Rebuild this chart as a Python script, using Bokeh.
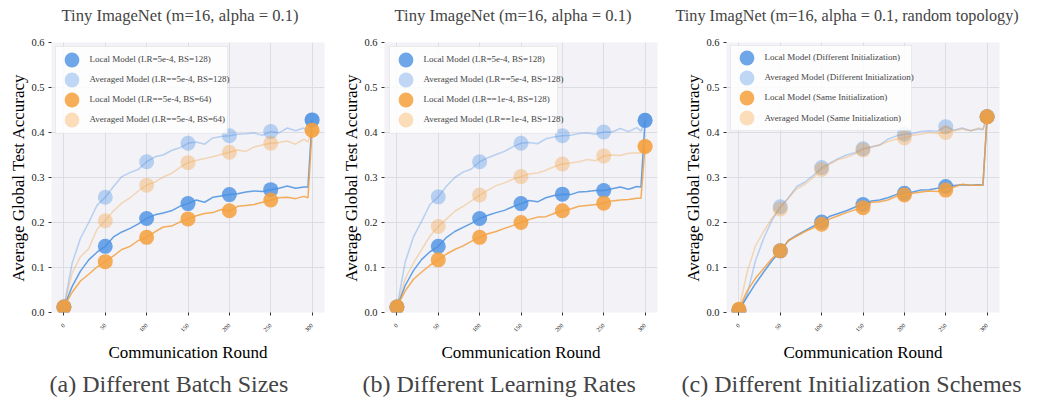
import math
from bokeh.plotting import figure
from bokeh.layouts import row
from bokeh.models import (FixedTicker, Legend, LegendItem, Title, ColumnDataSource, Range1d,
                          PrintfTickFormatter, BoxAnnotation)
from bokeh.embed import file_html
from bokeh.resources import INLINE

# ---------------- data ----------------
rounds = [0, 10, 20, 30, 40, 50, 60, 70, 80, 90, 100, 110, 120, 130, 140, 150, 160, 170, 180, 190,
          200, 210, 220, 230, 240, 250, 260, 270, 280, 290, 295, 300]
marker_rounds = [0, 50, 100, 150, 200, 250, 300]
x_ticks = [0, 50, 100, 150, 200, 250, 300]
y_ticks = [0.0, 0.1, 0.2, 0.3, 0.4, 0.5, 0.6]

titles = ["Tiny ImageNet (m=16, alpha = 0.1)",
          "Tiny ImageNet (m=16, alpha = 0.1)",
          "Tiny ImagNet (m=16, alpha = 0.1, random topology)"]
captions = ["(a) Different Batch Sizes",
            "(b) Different Learning Rates",
            "(c) Different Initialization Schemes"]

labels_a = ["Local Model (LR=5e-4, BS=128)", "Averaged Model (LR==5e-4, BS=128)",
            "Local Model (LR==5e-4, BS=64)", "Averaged Model (LR==5e-4, BS=64)"]
labels_b = ["Local Model (LR=5e-4, BS=128)", "Averaged Model (LR==5e-4, BS=128)",
            "Local Model (LR==1e-4, BS=128)", "Averaged Model (LR==1e-4, BS=128)"]
labels_c = ["Local Model (Different Initialization)", "Averaged Model (Different Initialization)",
            "Local Model (Same Initialization)", "Averaged Model (Same Initialization)"]

a_local_128 = [0.012, 0.058, 0.092, 0.117, 0.134, 0.147, 0.168, 0.179, 0.187, 0.197, 0.209, 0.217, 0.221, 0.226, 0.236, 0.242,
               0.250, 0.245, 0.256, 0.259, 0.262, 0.264, 0.268, 0.270, 0.269, 0.273, 0.276, 0.281, 0.276, 0.279, 0.279, 0.428]
a_avg_128 = [0.012, 0.110, 0.165, 0.200, 0.238, 0.256, 0.280, 0.302, 0.311, 0.318, 0.335, 0.346, 0.350, 0.360, 0.366, 0.376,
             0.379, 0.374, 0.388, 0.391, 0.393, 0.396, 0.397, 0.399, 0.394, 0.402, 0.399, 0.410, 0.404, 0.410, 0.401, 0.428]
a_local_64 = [0.012, 0.045, 0.070, 0.085, 0.101, 0.113, 0.126, 0.140, 0.147, 0.160, 0.167, 0.179, 0.190, 0.192, 0.201, 0.208,
              0.215, 0.220, 0.222, 0.229, 0.226, 0.236, 0.238, 0.240, 0.245, 0.250, 0.255, 0.256, 0.253, 0.258, 0.255, 0.405]
a_avg_64 = [0.012, 0.088, 0.124, 0.142, 0.185, 0.204, 0.226, 0.243, 0.255, 0.270, 0.283, 0.290, 0.301, 0.309, 0.322, 0.333,
            0.338, 0.342, 0.346, 0.351, 0.356, 0.361, 0.358, 0.368, 0.372, 0.376, 0.378, 0.381, 0.374, 0.385, 0.379, 0.405]

b_local_5e4 = [0.012, 0.060, 0.093, 0.118, 0.135, 0.147, 0.167, 0.180, 0.189, 0.198, 0.209, 0.216, 0.222, 0.227, 0.235, 0.242,
               0.249, 0.246, 0.255, 0.260, 0.263, 0.262, 0.268, 0.269, 0.271, 0.271, 0.275, 0.279, 0.274, 0.280, 0.279, 0.427]
b_avg_5e4 = [0.012, 0.112, 0.168, 0.203, 0.240, 0.257, 0.281, 0.300, 0.312, 0.319, 0.335, 0.344, 0.351, 0.358, 0.368, 0.376,
             0.378, 0.375, 0.386, 0.390, 0.393, 0.394, 0.398, 0.399, 0.396, 0.401, 0.401, 0.409, 0.402, 0.411, 0.403, 0.427]
b_local_1e4 = [0.012, 0.048, 0.074, 0.090, 0.105, 0.117, 0.130, 0.140, 0.148, 0.158, 0.167, 0.175, 0.180, 0.187, 0.193, 0.200,
               0.207, 0.212, 0.213, 0.220, 0.226, 0.230, 0.236, 0.238, 0.240, 0.243, 0.248, 0.250, 0.251, 0.254, 0.254, 0.369]
b_avg_1e4 = [0.012, 0.075, 0.110, 0.140, 0.170, 0.191, 0.208, 0.225, 0.236, 0.248, 0.261, 0.272, 0.282, 0.288, 0.296, 0.302,
             0.308, 0.310, 0.316, 0.324, 0.330, 0.332, 0.335, 0.340, 0.337, 0.348, 0.350, 0.349, 0.354, 0.355, 0.354, 0.369]

c_local_diff = [0.005, 0.035, 0.064, 0.090, 0.115, 0.137, 0.160, 0.172, 0.182, 0.192, 0.201, 0.214, 0.220, 0.226, 0.234, 0.240,
                0.248, 0.250, 0.255, 0.262, 0.265, 0.268, 0.272, 0.273, 0.276, 0.280, 0.282, 0.284, 0.283, 0.284, 0.283, 0.435]
c_avg_diff = [0.005, 0.040, 0.115, 0.165, 0.205, 0.235, 0.255, 0.280, 0.290, 0.305, 0.322, 0.332, 0.342, 0.350, 0.355, 0.364,
              0.368, 0.372, 0.385, 0.392, 0.396, 0.398, 0.402, 0.404, 0.403, 0.413, 0.405, 0.410, 0.404, 0.408, 0.406, 0.435]
c_local_same = [0.007, 0.048, 0.076, 0.098, 0.120, 0.137, 0.160, 0.170, 0.180, 0.188, 0.196, 0.208, 0.215, 0.222, 0.228, 0.233,
                0.245, 0.246, 0.250, 0.258, 0.261, 0.265, 0.268, 0.270, 0.269, 0.272, 0.279, 0.285, 0.283, 0.283, 0.283, 0.435]
c_avg_same = [0.007, 0.090, 0.148, 0.180, 0.210, 0.230, 0.255, 0.275, 0.285, 0.300, 0.318, 0.330, 0.340, 0.345, 0.352, 0.361,
              0.368, 0.372, 0.380, 0.385, 0.388, 0.394, 0.396, 0.400, 0.398, 0.400, 0.404, 0.408, 0.404, 0.410, 0.407, 0.435]

# ---------------- style ----------------
BLUE = "#4A90E2"
ORANGE = "#F5A03C"
SERIF = "Liberation Serif"
BG = "#F2F2F7"
GRID = "#DCDCE3"
FW, FH = 273, 270

series_style = [
    (BLUE, 0.85, 0.80),    # local
    (BLUE, 0.35, 0.35),    # averaged
    (ORANGE, 0.85, 0.85),
    (ORANGE, 0.35, 0.35),
]


def make_panel(title, caption, labels, series, bl, br, title_off, title_size, cap_off, leg):
    p = figure(frame_width=FW, frame_height=FH, output_backend="svg", toolbar_location=None,
               x_range=Range1d(-15, 315), y_range=Range1d(0, 0.6),
               min_border_left=bl, min_border_right=br, min_border_top=40, min_border_bottom=80,
               background_fill_color=BG, border_fill_color="white", outline_line_color=None)
    p.title.text = title
    p.title.text_font = SERIF
    p.title.text_font_size = title_size
    p.title.text_font_style = "normal"
    p.title.align = "left"
    p.title.offset = title_off
    p.title.standoff = 7
    # spacer between the title and the plot frame
    p.add_layout(Title(text=" ", text_font_size="1px", standoff=11), "above")

    p.xaxis.ticker = FixedTicker(ticks=x_ticks)
    p.yaxis.ticker = FixedTicker(ticks=y_ticks)
    p.yaxis.formatter = PrintfTickFormatter(format="%.1f")
    p.xgrid.ticker = FixedTicker(ticks=x_ticks)
    p.ygrid.ticker = FixedTicker(ticks=y_ticks)
    p.grid.grid_line_color = GRID
    p.grid.grid_line_width = 1

    for ax in (p.xaxis, p.yaxis):
        ax.axis_line_color = None
        ax.major_tick_in = 0
        ax.major_tick_out = 3
        ax.major_tick_line_color = "#333333"
        ax.minor_tick_line_color = None
        ax.major_label_text_font = SERIF
        ax.major_label_text_color = "#222222"
        ax.axis_label_text_font = SERIF
        ax.axis_label_text_font_style = "normal"
        ax.axis_label_text_font_size = "17px"
        ax.axis_label_text_color = "black"
    p.yaxis.major_label_text_font_size = "10.5px"
    p.yaxis.major_label_standoff = 4
    p.yaxis.axis_label = "Average Global Test Accuracy"
    p.yaxis.axis_label_standoff = 0
    p.xaxis.major_label_text_font_size = "6px"
    p.xaxis.major_label_orientation = math.pi / 4
    p.xaxis.major_label_standoff = 9
    p.xaxis.axis_label = "Communication Round"
    p.xaxis.axis_label_standoff = 6

    renderers = []
    for (color, la, ma), ys in zip(series_style, series):
        src = ColumnDataSource(dict(x=rounds, y=ys))
        p.line("x", "y", source=src, line_color=color, line_alpha=la, line_width=1.5)
        mk_y = [ys[rounds.index(r)] for r in marker_rounds]
        msrc = ColumnDataSource(dict(x=marker_rounds, y=mk_y))
        r = p.scatter("x", "y", source=msrc, size=15, fill_color=color, fill_alpha=ma,
                      line_color=None)
        renderers.append(r)

    # legend frame (screen units, relative to the plot frame)
    bx0, bx1, by0, by1, cx, cy0, pitch = leg
    box = BoxAnnotation(left=bx0, right=bx1, top=FH - by0, bottom=FH - by1,
                        left_units="screen", right_units="screen",
                        top_units="screen", bottom_units="screen",
                        fill_color="white", fill_alpha=0.85,
                        line_color="#CCCCCC", line_width=1, editable=False)
    p.add_layout(box)
    for i, (r, lab) in enumerate(zip(renderers, labels)):
        cy = cy0 + pitch * i
        lg = Legend(items=[LegendItem(label=lab, renderers=[r])],
                    location=(cx - 18.5, FH - cy - 18.5),
                    glyph_width=37, glyph_height=37, padding=0, margin=0, label_standoff=0,
                    label_text_font=SERIF, label_text_font_size="9px",
                    background_fill_alpha=0, border_line_color=None)
        p.add_layout(lg, "center")

    cap = Title(text=caption, align="left", offset=cap_off, text_font=SERIF,
                text_font_size="24px", text_font_style="normal", standoff=8)
    p.add_layout(cap, "below")
    return p


pa = make_panel(titles[0], captions[0], labels_a, [a_local_128, a_avg_128, a_local_64, a_avg_64],
                51, 15, 10, "16.6px", -2, (4, 176, 4, 91, 20, 17, 20))
pb = make_panel(titles[1], captions[1], labels_b, [b_local_5e4, b_avg_5e4, b_local_1e4, b_avg_1e4],
                44, 15, 10, "16.6px", -22, (5, 173, 4, 91, 21, 17, 20))
pc = make_panel(titles[2], captions[2], labels_c, [c_local_diff, c_avg_diff, c_local_same, c_avg_same],
                54, 24, -51, "16.2px", -45, (4, 185, 3, 88, 20, 15, 20.2))

layout = row(pa, pb, pc)
open("out.html", "w").write(file_html(layout, INLINE))
